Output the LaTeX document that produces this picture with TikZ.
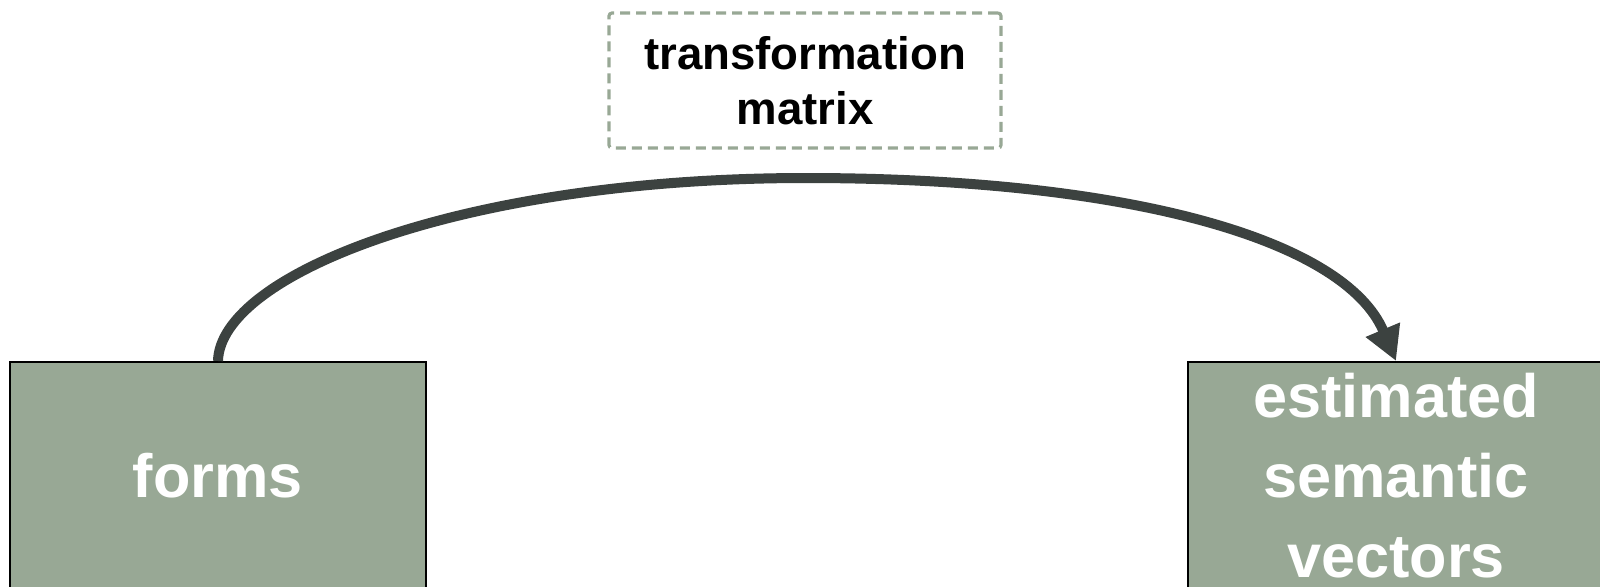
\documentclass[tikz,border=0pt]{standalone}
\usepackage{fontspec}
\setmainfont{Liberation Sans}
\usetikzlibrary{arrows.meta}
\definecolor{sage}{RGB}{152,168,149}
\definecolor{darkline}{RGB}{60,66,64}
\tikzset{
  databox/.style={draw=black, line width=1pt, fill=sage, text=white,
    minimum width=208pt, minimum height=114pt, align=center,
    font=\fontsize{30.6}{40}\selectfont\bfseries, inner sep=0pt},
  boxtext/.style={text=white, align=center, inner sep=0pt,
    font=\fontsize{30.6}{40}\selectfont\bfseries},
  labelbox/.style={draw=sage, line width=1.6pt, dash pattern=on 5pt off 3pt,
    rounded corners=1.5pt, minimum width=196pt, minimum height=67.5pt,
    align=center, font=\fontsize{22.8}{27.5}\selectfont\bfseries, inner sep=0pt},
  flow/.style={draw=darkline, line width=5pt,
    -{Triangle[length=17pt,width=17.5pt]}}
}
\begin{document}
\begin{tikzpicture}[x=0.5pt,y=-0.5pt]
  \useasboundingbox (0,0) rectangle (1600,586);
  \node[databox] (forms) at (218,476) {forms};
  \node[databox] (est) at (1396,476) {};
  \node[boxtext] (esttext) at (1396,476) {estimated\\semantic\\vectors};
  \node[labelbox] (tm) at (805,80.5) {transformation\\matrix};
  \coordinate (apex) at (806,178);
  \draw[flow] (forms.north) .. controls (220,275) and (460,178) .. (apex)
    .. controls (1130,178) and (1345,240) .. (est.north);
\end{tikzpicture}
\end{document}
